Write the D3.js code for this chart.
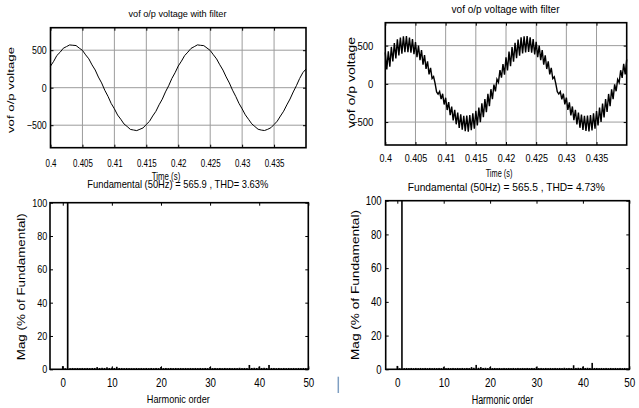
<!DOCTYPE html>
<html>
<head>
<meta charset="utf-8">
<script src="https://cdn.jsdelivr.net/npm/d3@7"></script>
<style>
  body { margin: 0; background: #fff; }
  svg { display: block; }
</style>
</head>
<body>
<svg id="chart" width="639" height="408"></svg>
<script>
// ---- data ----
const tStart = 0.4, tStep = 0.0005;   // sample spacing of the waveforms (s)

// filtered output, left case (V)
const waveA = [
  288, 352, 430, 472, 526, 548, 570, 566, 562, 528, 498, 438, 385, 304, 236, 142, 64, -34, -115, -210,
  -281, -364, -420, -483, -517, -556, -564, -572, -554, -536, -490, -448, -377, -315, -228, -153, -56, 26, 123, 199,
  289, 354, 428, 474, 524, 547, 571, 565, 561, 529, 497, 439, 384, 306, 235, 144, 63, -33, -116, -208,
  -282, -362, -421, -481, -518, -554, -565, -571, -555, -534, -491, -446, -378, -313, -229, -151, -57, 27, 122, 200,
  250
];

// filtered output, right case: middle of the band and half its thickness (V)
const waveBMid = [
  300, 325, 388, 434, 477, 500, 518, 520, 507, 487, 448, 406, 346, 285, 208, 140, 50, -120, -150, -200,
  -262, -325, -388, -434, -477, -500, -518, -520, -507, -487, -448, -406, -346, -285, -211, -135, -54, 40, 130, 190,
  262, 327, 386, 436, 475, 503, 516, 521, 508, 486, 449, 405, 347, 284, 210, 138, 48, -118, -152, -198,
  -260, -327, -386, -436, -475, -502, -517, -519, -509, -485, -450, -404, -348, -283, -212, -136, -52, 38, 128, 192,
  230
];
const waveBRipple = [
  110, 100, 95, 100, 105, 105, 105, 105, 100, 100, 100, 95, 95, 90, 85, 70, 45, 15, 50, 70,
  80, 85, 90, 95, 100, 100, 100, 105, 100, 100, 95, 95, 90, 85, 80, 65, 45, 20, 50, 70,
  85, 95, 95, 100, 105, 105, 105, 105, 100, 100, 100, 95, 95, 90, 85, 70, 45, 15, 50, 70,
  80, 85, 90, 95, 100, 100, 100, 105, 100, 100, 95, 95, 90, 85, 80, 65, 45, 20, 50, 70,
  90
];

const timeTicks = [0.4, 0.405, 0.41, 0.415, 0.42, 0.425, 0.43, 0.435];
const voltTicks = [-500, 0, 500];

// spectrum, harmonic order 0 .. 50 in steps of 0.5
const harmOrders = d3.range(0, 50.25, 0.5);
const magA = [
  1.9, 0.6, 100, 0.7, 0.8, 0.7, 0.8, 0.7, 0.8, 0.7,
  0.8, 0.7, 0.8, 0.8, 1.3, 0.8, 0.9, 0.8, 1.2, 0.8,
  1.0, 0.8, 1.5, 0.8, 0.8, 0.7, 0.8, 0.7, 0.8, 0.7,
  0.8, 0.7, 0.8, 0.7, 0.8, 0.7, 0.8, 0.7, 0.8, 0.7,
  1.4, 0.7, 0.8, 0.7, 0.8, 0.7, 0.8, 0.7, 0.8, 0.7,
  0.8, 0.7, 0.8, 0.7, 0.8, 0.7, 0.8, 0.7, 0.8, 0.7,
  1.4, 0.7, 0.8, 0.7, 0.8, 0.7, 0.8, 0.7, 0.8, 0.7,
  0.8, 0.7, 0.9, 0.7, 0.8, 0.7, 2.6, 0.8, 0.9, 0.8,
  1.6, 0.8, 0.9, 0.8, 2.6, 0.8, 0.8, 0.7, 0.8, 0.7,
  0.8, 0.7, 0.8, 0.7, 0.8, 0.7, 0.8, 0.7, 0.8, 0.7,
  0.8
];
const magB = [
  2.0, 0.6, 100, 0.7, 0.8, 0.7, 0.8, 0.7, 0.8, 0.7,
  0.8, 0.7, 0.8, 0.7, 0.8, 0.7, 0.8, 0.7, 0.8, 0.7,
  1.3, 0.7, 0.8, 0.7, 0.8, 0.7, 0.8, 0.7, 0.8, 0.7,
  0.8, 0.7, 1.3, 0.9, 2.6, 0.9, 1.3, 0.8, 0.9, 0.7,
  1.4, 0.7, 0.8, 0.7, 0.8, 0.7, 0.8, 0.7, 0.8, 0.7,
  0.8, 0.7, 0.8, 0.7, 0.8, 0.7, 0.8, 0.7, 0.8, 0.7,
  1.4, 0.7, 0.8, 0.7, 0.8, 0.7, 0.8, 0.7, 0.8, 0.7,
  0.8, 0.7, 0.9, 0.7, 0.8, 0.7, 2.4, 0.8, 0.9, 0.8,
  1.6, 0.8, 0.9, 0.8, 3.8, 0.8, 0.8, 0.7, 0.8, 0.7,
  0.8, 0.7, 0.8, 0.7, 0.8, 0.7, 0.8, 0.7, 0.8, 0.7,
  0.8
];
const harmTicks = [0, 10, 20, 30, 40, 50];
const magTicks = [0, 20, 40, 60, 80, 100];

const titleText = "vof o/p voltage with filter";
const voltLabel = "vof o/p voltage";
const timeLabel = "Time (s)";
const harmLabel = "Harmonic order";
const magLabel = "Mag (% of Fundamental)";
const fundTextA = "Fundamental (50Hz) = 565.9 , THD= 3.63%";
const fundTextB = "Fundamental (50Hz) = 565.5 , THD= 4.73%";

// ---- drawing ----
const font = "'Liberation Sans', Arial, sans-serif";
const svg = d3.select("#chart");

// narrow the tick labels the way the original (Arial Narrow-ish) looks
function squeeze(sel, fs, sq) {
  sel.attr("font-family", font);
  sel.selectAll("text")
     .attr("font-size", fs)
     .attr("fill", "#000")
     .attr("transform", "scale(" + sq + ",1)")
     .attr("x", function() { return (+this.getAttribute("x") || 0) / sq; });
}

function panel(c) {
  const x = d3.scaleLinear().domain(c.xDomain).range([c.left, c.right]);
  const y = d3.scaleLinear().domain(c.yDomain).range([c.bottom, c.top]);
  const g = svg.append("g");

  if (c.grid) {
    g.append("g").selectAll("line").data(c.xTicks).join("line")
      .attr("x1", d => x(d)).attr("x2", d => x(d))
      .attr("y1", c.top).attr("y2", c.bottom)
      .attr("stroke", "#9c9c9c").attr("stroke-width", 1);
    g.append("g").selectAll("line").data(c.yTicks).join("line")
      .attr("x1", c.left).attr("x2", c.right)
      .attr("y1", d => y(d)).attr("y2", d => y(d))
      .attr("stroke", "#9c9c9c").attr("stroke-width", 1);
  }

  const marks = g.append("g");

  const xb = g.append("g").attr("transform", "translate(0," + c.bottom + ")")
    .call(d3.axisBottom(x).tickValues(c.xTicks).tickSize(-3).tickPadding(c.xPad).tickFormat(c.xFmt));
  xb.select(".domain").remove();
  squeeze(xb, c.xFs, c.xSq);

  const xt = g.append("g").attr("transform", "translate(0," + c.top + ")")
    .call(d3.axisTop(x).tickValues(c.xTicks).tickSize(-3).tickFormat(""));
  xt.select(".domain").remove();

  const yl = g.append("g").attr("transform", "translate(" + c.left + ",0)")
    .call(d3.axisLeft(y).tickValues(c.yTicks).tickSize(-3).tickPadding(c.yPad));
  yl.select(".domain").remove();
  squeeze(yl, c.yFs, c.ySq);

  const yr = g.append("g").attr("transform", "translate(" + c.right + ",0)")
    .call(d3.axisRight(y).tickValues(c.yTicks).tickSize(-3).tickFormat(""));
  yr.select(".domain").remove();

  g.append("rect")
    .attr("x", c.left).attr("y", c.top)
    .attr("width", c.right - c.left).attr("height", c.bottom - c.top)
    .attr("fill", "none").attr("stroke", "#000").attr("stroke-width", 1.6);

  return { x, y, marks };
}

function label(txt, cx, by, fs, len, rotate) {
  const t = svg.append("text")
    .attr("font-family", font).attr("font-size", fs)
    .attr("text-anchor", "middle").attr("fill", "#000")
    .attr("textLength", len).attr("lengthAdjust", "spacingAndGlyphs")
    .text(txt);
  if (rotate) t.attr("transform", "translate(" + cx + "," + by + ") rotate(-90)");
  else t.attr("x", cx).attr("y", by);
}

const fmtTime = d => d3.format("")(+d.toFixed(3));

// top left: waveform
const pA = panel({
  left: 50.5, right: 306, top: 27.7, bottom: 147.7,
  xDomain: [0.4, 0.44], yDomain: [-800, 800],
  xTicks: timeTicks, yTicks: voltTicks, grid: true,
  xFmt: fmtTime, xPad: 11.6, xFs: 10.6, xSq: 0.75,
  yPad: 3.8, yFs: 10.4, ySq: 0.85
});
pA.marks.append("path")
  .datum(waveA)
  .attr("fill", "none").attr("stroke", "#000").attr("stroke-width", 1)
  .attr("d", d3.line().x((d, i) => pA.x(tStart + i * tStep)).y(d => pA.y(d)));

// top right: waveform with switching ripple
const pB = panel({
  left: 385.3, right: 626.7, top: 22.7, bottom: 145,
  xDomain: [0.4, 0.44], yDomain: [-800, 800],
  xTicks: timeTicks, yTicks: voltTicks, grid: true,
  xFmt: fmtTime, xPad: 9, xFs: 11, xSq: 0.82,
  yPad: 12, yFs: 10.6, ySq: 0.9
});
const ripplePts = [];
waveBMid.forEach((m, i) => {
  const t = tStart + i * tStep;
  ripplePts.push([t, m + waveBRipple[i]]);
  if (t + tStep / 2 <= 0.44) ripplePts.push([t + tStep / 2, m - waveBRipple[i]]);
});
pB.marks.append("path")
  .datum(ripplePts)
  .attr("fill", "none").attr("stroke", "#000").attr("stroke-width", 1.4)
  .attr("d", d3.line().x(d => pB.x(d[0])).y(d => pB.y(d[1])));

// bottom left: spectrum
const pC = panel({
  left: 50, right: 308.3, top: 202.7, bottom: 369.3,
  xDomain: [-2.6, 50], yDomain: [0, 100],
  xTicks: harmTicks, yTicks: magTicks, grid: false,
  xFmt: d3.format("d"), xPad: 8, xFs: 13, xSq: 0.75,
  yPad: 2.7, yFs: 11, ySq: 0.82
});
// bottom right: spectrum
const pD = panel({
  left: 385.7, right: 629.3, top: 200.7, bottom: 369.3,
  xDomain: [-2.5, 50], yDomain: [0, 100],
  xTicks: harmTicks, yTicks: magTicks, grid: false,
  xFmt: d3.format("d"), xPad: 9, xFs: 12.5, xSq: 0.79,
  yPad: 4, yFs: 12, ySq: 0.8
});

[[pC, magA], [pD, magB]].forEach(([p, mags]) => {
  const w = p.x(0.17) - p.x(-0.17);
  p.marks.selectAll("rect")
    .data(harmOrders)
    .join("rect")
    .attr("x", d => p.x(d) - w / 2)
    .attr("width", w)
    .attr("y", (d, i) => p.y(mags[i]))
    .attr("height", (d, i) => p.y(0) - p.y(mags[i]))
    .attr("fill", "#000");
});

// titles and axis labels
label(titleText, 177.5, 16.5, 9.5, 98);
label(titleText, 505.5, 13.2, 10, 108);
label(timeLabel, 166, 180, 10.5, 28.5);
label(timeLabel, 499, 176.5, 11, 26.7);
label(fundTextA, 177.8, 188, 11, 181);
label(fundTextB, 506.3, 190.5, 11.5, 197);
label(harmLabel, 178.3, 402.5, 11.5, 63);
label(harmLabel, 502.5, 403.5, 12, 61.6);
label(voltLabel, 13.5, 90, 9.8, 86, true);
label(voltLabel, 354.8, 82.5, 10, 91, true);
label(magLabel, 24.5, 286.7, 10, 147, true);
label(magLabel, 358.8, 285, 10.2, 150, true);

// stray cursor mark present in the original picture
svg.append("line")
  .attr("x1", 338.3).attr("x2", 338.3).attr("y1", 376.7).attr("y2", 393)
  .attr("stroke", "#7f9fc2").attr("stroke-width", 1.5);
</script>
</body>
</html>
